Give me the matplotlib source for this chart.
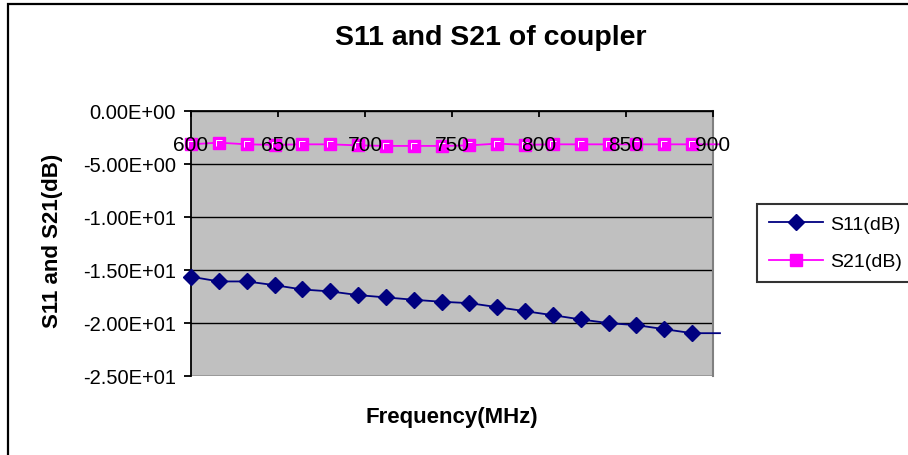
import numpy as np
import matplotlib
matplotlib.use("Agg")
import matplotlib.pyplot as plt
from matplotlib.patches import Rectangle
from matplotlib.path import Path
from matplotlib.ticker import FuncFormatter

plt.rcParams['font.family'] = ['Liberation Sans', 'DejaVu Sans']

# Measured coupler response
freq_mhz = [600, 616, 632, 648, 664, 680, 696, 712, 728, 744,
            760, 776, 792, 808, 824, 840, 856, 872, 888, 904]
s11_db = [-15.66, -16.11, -16.11, -16.46, -16.87, -17.05, -17.40, -17.62, -17.84, -18.03,
          -18.16, -18.54, -18.92, -19.30, -19.70, -20.05, -20.24, -20.62, -21.00, -21.00]
s21_db = [-3.15, -2.99, -3.15, -3.20, -3.15, -3.15, -3.25, -3.30, -3.30, -3.30,
          -3.25, -3.08, -3.20, -3.15, -3.15, -3.15, -3.15, -3.15, -3.15, -3.15]

x_ticks = [600, 650, 700, 750, 800, 850, 900]
y_ticks = [0, -5, -10, -15, -20, -25]

W, H = 908, 456
fig = plt.figure(figsize=(W / 100, H / 100), dpi=100)
fig.patch.set_facecolor('white')

# plot area in pixel coordinates
left, right, top, bottom = 191, 713, 112, 376.5
ax = fig.add_axes([left / W, 1 - bottom / H, (right - left) / W, (bottom - top) / H])
ax.set_facecolor('#C0C0C0')
ax.set_xlim(600, 900)
ax.set_ylim(-25, 0)

# category axis sits on the 0 dB line
ax.spines['bottom'].set_position(('data', 0))
ax.spines['bottom'].set_linewidth(1.3)
ax.spines['left'].set_linewidth(1.3)
ax.spines['top'].set_visible(False)
ax.spines['right'].set_color('#808080')
ax.spines['right'].set_linewidth(1.5)

ax.set_yticks(y_ticks)
ax.yaxis.set_major_formatter(FuncFormatter(lambda v, p: f"{v + 0.0:.2E}"))
ax.set_xticks(x_ticks)
ax.tick_params(axis='x', direction='out', length=4.5, width=1.3, pad=13, labelsize=15)
ax.tick_params(axis='y', direction='out', length=5, width=1.3, pad=6, labelsize=14.5)
ax.yaxis.grid(True, color='black', linewidth=1.0)
ax.set_axisbelow(True)
ax.xaxis.set_zorder(6)  # frequency labels over the traces

shown = [i for i, f in enumerate(freq_mhz) if f <= 900]
ax.plot(freq_mhz, s11_db, color='#000080', linewidth=1.3, marker='D', markersize=8,
        markevery=shown, clip_on=False, label='S11(dB)', zorder=3)
ax.plot(freq_mhz, s21_db, color='#FF00FF', linewidth=1.3, marker='s', markersize=8,
        markevery=shown, clip_on=False, label='S21(dB)', zorder=3)

# inner highlight on the square markers
corner = Path([(-0.5, -0.5), (-0.5, 0.5), (0.5, 0.5)],
              [Path.MOVETO, Path.LINETO, Path.LINETO])
ax.plot([freq_mhz[i] for i in shown], [s21_db[i] for i in shown], linestyle='none',
        marker=corner, markersize=4.5, markerfacecolor='none', markeredgecolor='white',
        markeredgewidth=0.7, clip_on=False, zorder=4)

leg = fig.legend(loc='upper left', bbox_to_anchor=(757 / W, 1 - 205 / H),
                 bbox_transform=fig.transFigure, fontsize=14, frameon=True,
                 fancybox=False, borderpad=0.6, labelspacing=1.0,
                 handlelength=2.8, handletextpad=0.35, borderaxespad=0)
leg.get_frame().set_edgecolor('black')
leg.get_frame().set_linewidth(1.5)

fig.text(491 / W, 1 - 38 / H, 'S11 and S21 of coupler', ha='center', va='center',
         fontsize=20.5, fontweight='bold')
fig.text(452 / W, 1 - 418 / H, 'Frequency(MHz)', ha='center', va='center',
         fontsize=16, fontweight='bold')
fig.text(53 / W, 1 - 241 / H, 'S11 and S21(dB)', ha='center', va='center',
         rotation=90, fontsize=16, fontweight='bold')

# chart border
fig.add_artist(Rectangle((8 / W, -0.1), 1.2, 1 - 5 / H + 0.1, transform=fig.transFigure,
                         fill=False, edgecolor='black', linewidth=1.6))

fig.savefig('out.png', dpi=100)
